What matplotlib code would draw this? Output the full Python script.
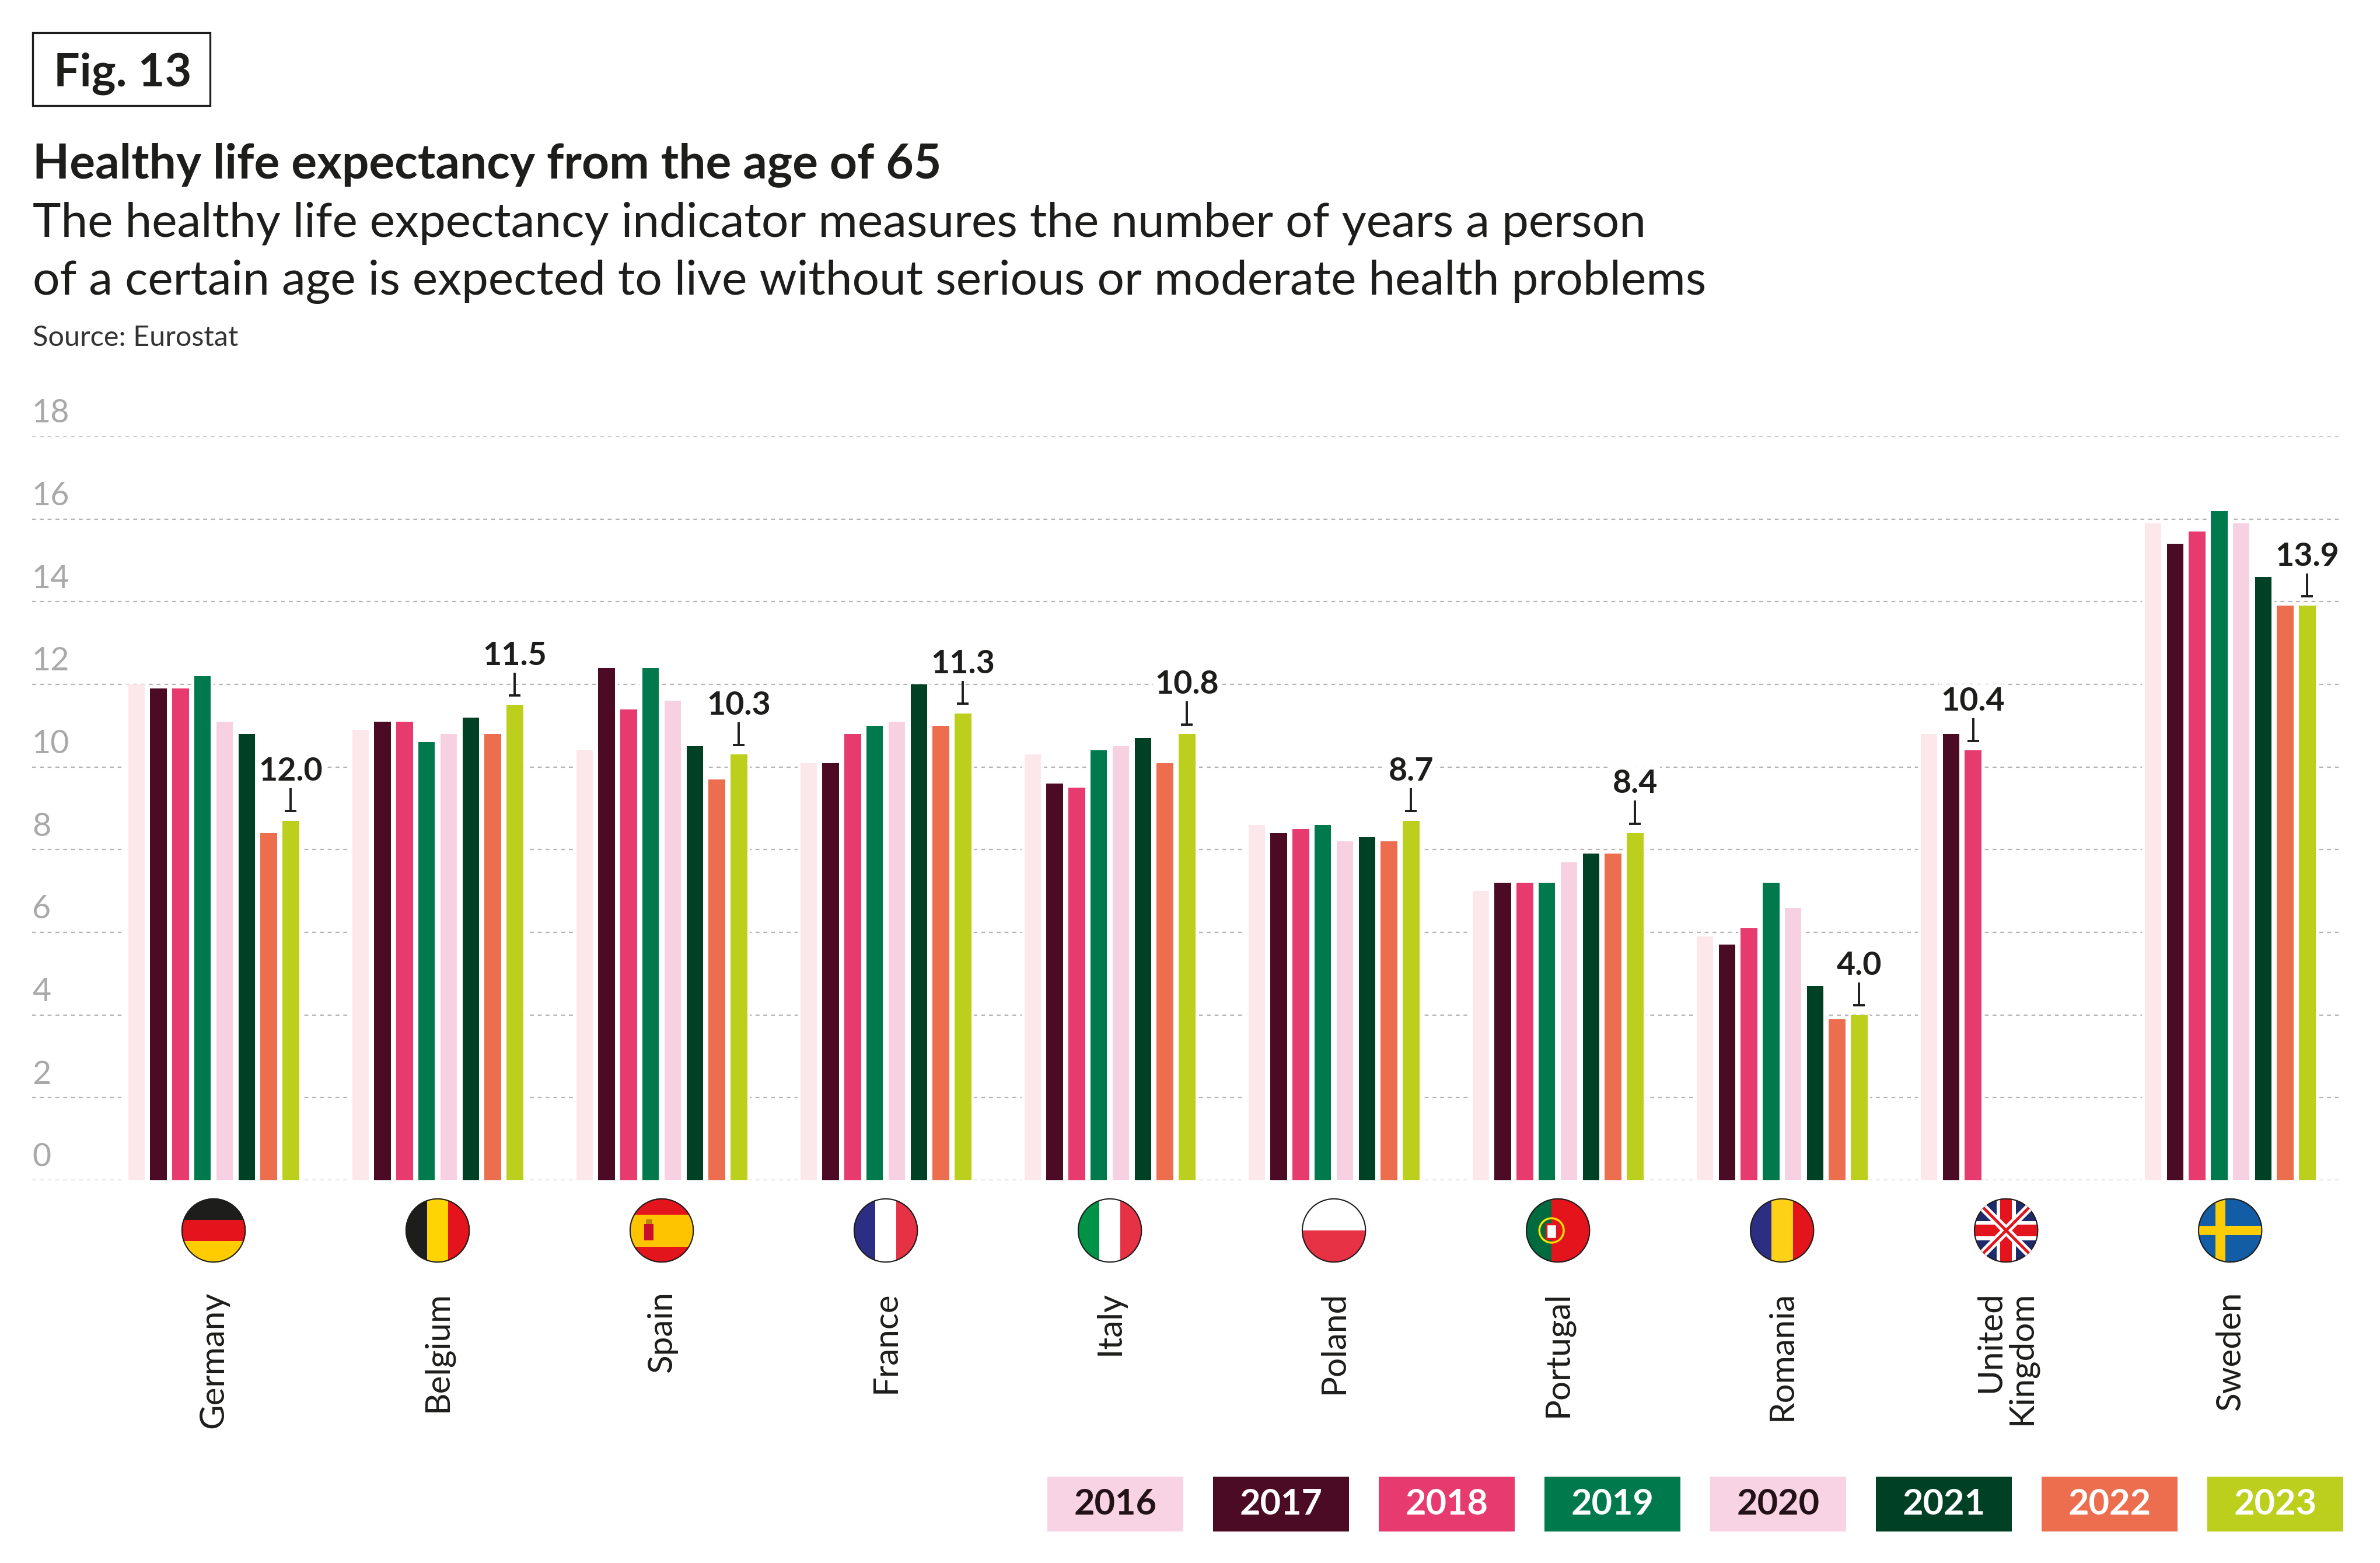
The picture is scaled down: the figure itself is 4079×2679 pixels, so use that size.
import numpy as np
import matplotlib.pyplot as plt
from matplotlib.patches import Rectangle, Circle
from matplotlib.transforms import blended_transform_factory

plt.rcParams['font.family'] = ['Lato', 'DejaVu Sans']

# ---------------- dados ----------------
COUNTRIES = ["Germany", "Belgium", "Spain", "France", "Italy", "Poland",
             "Portugal", "Romania", "United\nKingdom", "Sweden"]
YEARS = ["2016", "2017", "2018", "2019", "2020", "2021", "2022", "2023"]
nan = np.nan

v2016 = [12.0, 10.9, 10.4, 10.1, 10.3, 8.6, 7.0, 5.9, 10.8, 15.9]
v2017 = [11.9, 11.1, 12.4, 10.1, 9.6, 8.4, 7.2, 5.7, 10.8, 15.4]
v2018 = [11.9, 11.1, 11.4, 10.8, 9.5, 8.5, 7.2, 6.1, 10.4, 15.7]
v2019 = [12.2, 10.6, 12.4, 11.0, 10.4, 8.6, 7.2, 7.2, nan, 16.2]
v2020 = [11.1, 10.8, 11.6, 11.1, 10.5, 8.2, 7.7, 6.6, nan, 15.9]
v2021 = [10.8, 11.2, 10.5, 12.0, 10.7, 8.3, 7.9, 4.7, nan, 14.6]
v2022 = [8.4, 10.8, 9.7, 11.0, 10.1, 8.2, 7.9, 3.9, nan, 13.9]
v2023 = [8.7, 11.5, 10.3, 11.3, 10.8, 8.7, 8.4, 4.0, nan, 13.9]
SERIES = [v2016, v2017, v2018, v2019, v2020, v2021, v2022, v2023]

# rótulos destacados (como aparecem no original)
VALUE_LABELS = ["12.0", "11.5", "10.3", "11.3", "10.8", "8.7", "8.4", "4.0", "10.4", "13.9"]

Y_TICKS = [0, 2, 4, 6, 8, 10, 12, 14, 16, 18]

# ---------------- estilo ----------------
BAR_COLORS = ["#FCE8EA", "#4B0B25", "#E73A6F", "#007A4D",
              "#F7D1E2", "#004024", "#EC6E4F", "#BBCF1C"]
LEGEND_COLORS = ["#F8D3E3", "#4B0B25", "#E73A6F", "#007A4D",
                 "#F8D3E3", "#004024", "#EC6E4F", "#BBCF1C"]
LEGEND_TEXT = ["#231218", "white", "white", "white", "#231218", "white", "white", "white"]
DARK = "#1d1d1b"
GRID = "#b4b4b4"

W, H = 4079, 2679
DPI = 100
BAR_PITCH = 0.0984
BAR_W = 0.074


def fx(p):
    return p / W


def fy(p):
    return 1 - p / H


def faixas(fa, cores, pesos, orient):
    total = float(sum(pesos))
    pos = 0.0
    for c, p in zip(cores, pesos):
        frac = 2 * p / total
        if orient == "v":
            fa.add_patch(Rectangle((-1 + pos, -1), frac, 2, color=c, lw=0))
        else:
            fa.add_patch(Rectangle((-1, 1 - pos - frac), 2, frac, color=c, lw=0))
        pos += frac


def desenhar_bandeira(fa, nome):
    if nome == "Germany":
        faixas(fa, ["#1d1d1b", "#E3141B", "#FFCC00"], [1, 1, 1], "h")
    elif nome == "Belgium":
        faixas(fa, ["#1d1d1b", "#FFD500", "#E3141B"], [1, 1, 1], "v")
    elif nome == "Spain":
        faixas(fa, ["#E3141B", "#FFC400", "#E3141B"], [1, 2, 1], "h")
        fa.add_patch(Rectangle((-0.55, -0.3), 0.3, 0.5, color="#C8102E", lw=0))
        fa.add_patch(Rectangle((-0.5, 0.2), 0.2, 0.15, color="#B8860B", lw=0))
    elif nome == "France":
        faixas(fa, ["#2B2E83", "white", "#E63244"], [1, 1, 1], "v")
    elif nome == "Italy":
        faixas(fa, ["#009246", "white", "#E63244"], [1, 1, 1], "v")
    elif nome == "Poland":
        faixas(fa, ["white", "#E63244"], [1, 1], "h")
    elif nome == "Portugal":
        faixas(fa, ["#006B3F", "#E3141B"], [2, 3], "v")
        fa.add_patch(Circle((-0.2, 0), 0.38, fill=False, ec="#FFE000", lw=2.5))
        fa.add_patch(Rectangle((-0.36, -0.25), 0.32, 0.45, fc="white", ec="#E3141B", lw=2.5))
    elif nome == "Romania":
        faixas(fa, ["#2B2E83", "#FCD116", "#E3141B"], [1, 1, 1], "v")
    elif nome.startswith("United"):
        fa.add_patch(Rectangle((-1, -1), 2, 2, color="#1F2A6B", lw=0))
        fa.plot([-1, 1], [-1, 1], color="white", lw=10, solid_capstyle="butt")
        fa.plot([-1, 1], [1, -1], color="white", lw=10, solid_capstyle="butt")
        fa.plot([-1, 1], [-1, 1], color="#E3141B", lw=3.5, solid_capstyle="butt")
        fa.plot([-1, 1], [1, -1], color="#E3141B", lw=3.5, solid_capstyle="butt")
        fa.add_patch(Rectangle((-1, -0.3), 2, 0.6, color="white", lw=0))
        fa.add_patch(Rectangle((-0.3, -1), 0.6, 2, color="white", lw=0))
        fa.add_patch(Rectangle((-1, -0.18), 2, 0.36, color="#E3141B", lw=0))
        fa.add_patch(Rectangle((-0.18, -1), 0.36, 2, color="#E3141B", lw=0))
    elif nome == "Sweden":
        fa.add_patch(Rectangle((-1, -1), 2, 2, color="#135CA6", lw=0))
        fa.add_patch(Rectangle((-1, -0.15), 2, 0.3, color="#FECC02", lw=0))
        fa.add_patch(Rectangle((-0.45, -1), 0.3, 2, color="#FECC02", lw=0))

    circ = Circle((0, 0), 1, transform=fa.transData)
    for art in fa.patches + fa.lines:
        art.set_clip_path(circ)
    fa.add_patch(Circle((0, 0), 0.985, fill=False, ec="#1d1d1b", lw=1.5, clip_on=False))


def main():
    fig = plt.figure(figsize=(W / DPI, H / DPI), dpi=DPI)
    ax = fig.add_axes([fx(55), fy(2023), (4015 - 55) / W, (2023 - 748) / H])
    ax.set_xlim(-0.810, 9.502)
    ax.set_ylim(0, 18)
    ax.axis("off")

    idx = np.arange(len(COUNTRIES))

    # grade tracejada + rótulos acima das linhas
    for y in Y_TICKS:
        ax.axhline(y, color=GRID, lw=1.6, linestyle=(0, (3, 3)), zorder=1)
        ax.annotate(str(y), xy=(0, y), xycoords=("axes fraction", "data"),
                    xytext=(0, 17), textcoords="offset points",
                    ha="left", va="baseline", fontsize=40, color="#a9a9a9",
                    annotation_clip=False)

    # barras
    for j, (vals, cor) in enumerate(zip(SERIES, BAR_COLORS)):
        vals = np.array(vals, dtype=float)
        ok = ~np.isnan(vals)
        x = idx[ok] + (j - 3.5) * BAR_PITCH
        ax.bar(x, vals[ok], width=BAR_PITCH, color="white", lw=0, zorder=2)
        ax.bar(x, vals[ok], width=BAR_W, color=cor, lw=0, zorder=3)

    # rótulos de valor com marcador
    for i, lab in enumerate(VALUE_LABELS):
        j = max(k for k in range(len(SERIES)) if not np.isnan(SERIES[k][i]))
        v = SERIES[j][i]
        x = i + (j - 3.5) * BAR_PITCH
        ax.plot([x, x], [v + 0.23, v + 0.86], color=DARK, lw=2.8, zorder=5,
                solid_capstyle="butt")
        ax.plot([x - 0.026, x + 0.026], [v + 0.23, v + 0.23], color=DARK, lw=2.8,
                zorder=5, solid_capstyle="butt")
        ax.text(x, v + 0.97, lab, ha="center", va="baseline", fontsize=40,
                fontweight="bold", color=DARK, zorder=6,
                bbox=dict(facecolor="white", edgecolor="none", pad=3))

    # bandeiras e nomes dos países
    inv = fig.transFigure.inverted()
    r = 55
    trans = blended_transform_factory(ax.transData, fig.transFigure)
    for i, nome in enumerate(COUNTRIES):
        cx = inv.transform(ax.transData.transform((i, 0)))[0]
        fa = fig.add_axes([cx - r / W, fy(2109) - r / H, 2 * r / W, 2 * r / H])
        fa.set_xlim(-1, 1)
        fa.set_ylim(-1, 1)
        fa.axis("off")
        desenhar_bandeira(fa, nome)
        ax.text(i, fy(2213), nome, transform=trans, rotation=90, ha="center",
                va="top", multialignment="right", fontsize=42, color=DARK,
                linespacing=1.0)

    # cabeçalho
    fig.add_artist(Rectangle((fx(56), fy(181)), 304 / W, 125 / H, fill=False,
                             ec=DARK, lw=2.4, transform=fig.transFigure))
    fig.text(fx(92), fy(148), "Fig. 13", fontsize=57, fontweight="bold",
             color=DARK, va="baseline")
    fig.text(fx(56), fy(305), "Healthy life expectancy from the age of 65",
             fontsize=59, fontweight="bold", color=DARK, va="baseline")
    fig.text(fx(56), fy(405),
             "The healthy life expectancy indicator measures the number of years a person",
             fontsize=59, color=DARK, va="baseline")
    fig.text(fx(56), fy(505),
             "of a certain age is expected to live without serious or moderate health problems",
             fontsize=59, color=DARK, va="baseline")
    fig.text(fx(56), fy(593), "Source: Eurostat", fontsize=35, color="#333333",
             va="baseline")

    # legenda em caixas
    for j, (ano, cor, tc) in enumerate(zip(YEARS, LEGEND_COLORS, LEGEND_TEXT)):
        x0 = 1795 + j * 284
        fig.add_artist(Rectangle((fx(x0), fy(2625)), 233 / W, 94 / H, color=cor,
                                 lw=0, transform=fig.transFigure))
        fig.text(fx(x0 + 116.5), fy(2578), ano, ha="center", va="center",
                 fontsize=44, fontweight="bold", color=tc)

    fig.savefig("out.png", dpi=DPI, facecolor="white")
    plt.close(fig)


if __name__ == "__main__":
    main()
